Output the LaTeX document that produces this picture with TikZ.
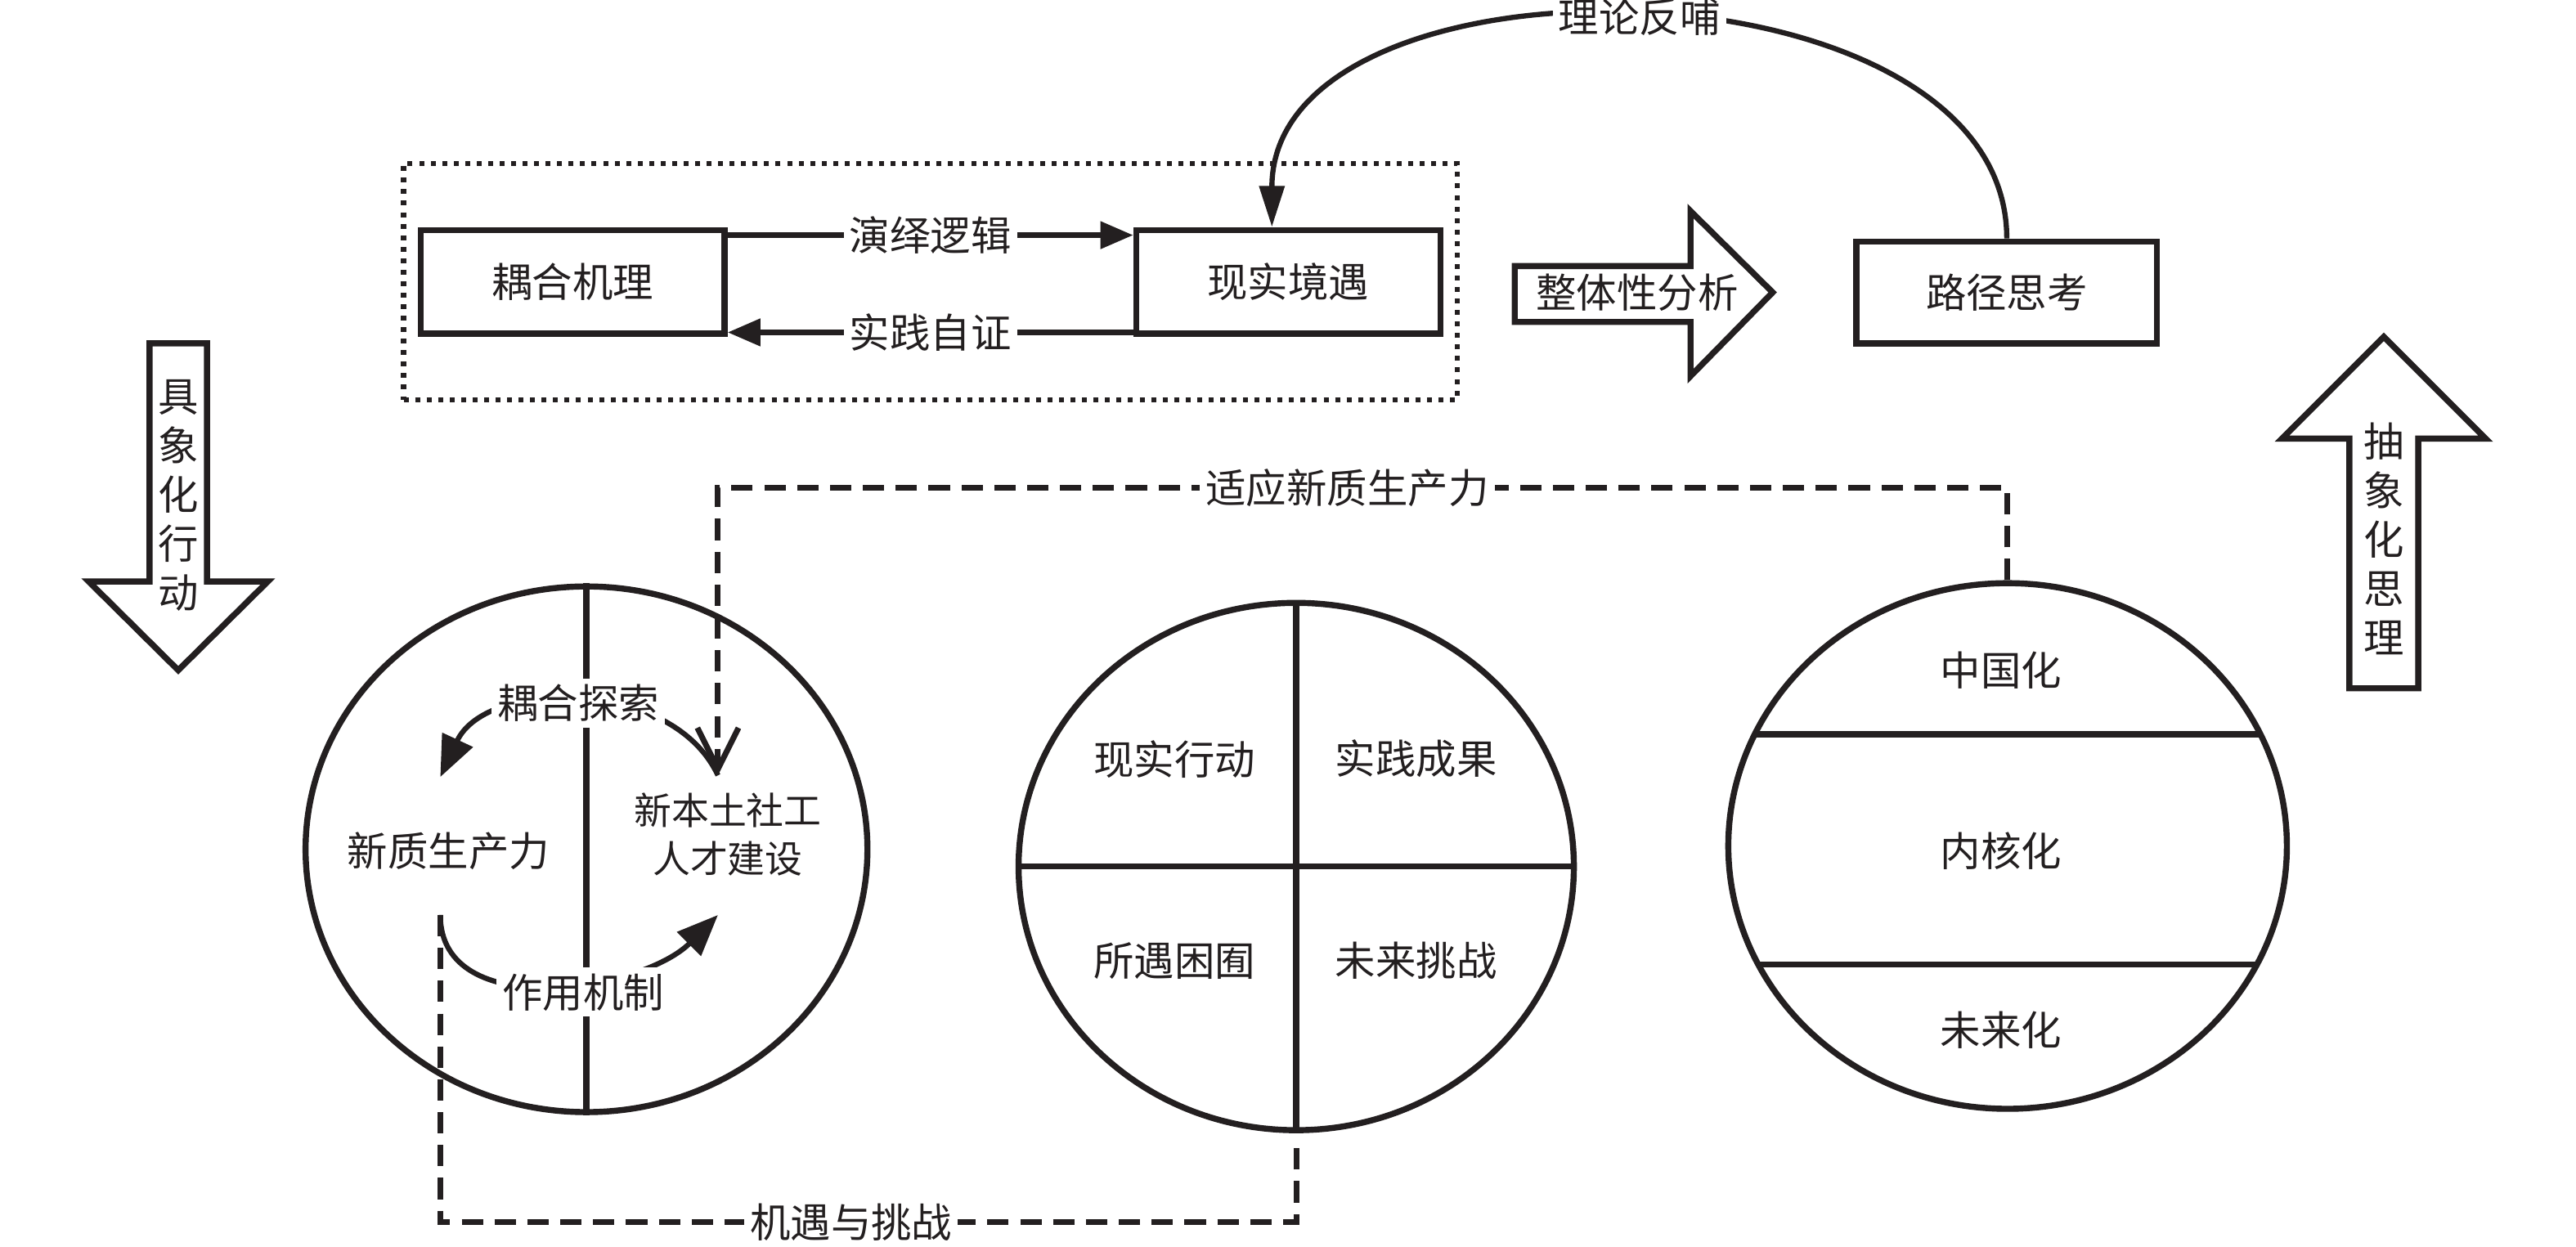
\documentclass[tikz,border=0pt]{standalone}
\usepackage{fontspec}
\setmainfont{Noto Sans CJK SC}
\usepackage{tikz}
\usetikzlibrary{arrows.meta,positioning,shapes.geometric,fit}
\definecolor{ink}{HTML}{231F20}

\begin{document}
\begin{tikzpicture}[
    node distance=4.94cm,
    box/.style={draw=ink, line width=2.1pt, minimum width=3.7cm,
                minimum height=1.26cm, inner sep=0pt, text=ink,
                font=\fontsize{14}{17}\selectfont},
    ring/.style={draw=ink, ellipse, line width=2.1pt, inner sep=0pt},
    txt/.style={text=ink, inner sep=1pt, align=center,
                font=\fontsize{14}{17}\selectfont},
    lbl/.style={txt, fill=white, inner sep=2pt},
    flow/.style={-{Triangle[length=4mm,width=3.2mm]}, draw=ink,
                 line width=2.1pt},
    turn/.style={-{Triangle[length=5mm,width=4mm]}, draw=ink,
                 line width=1.8pt},
    dashlink/.style={draw=ink, line width=2pt,
                     dash pattern=on 0.26cm off 0.14cm},
    blockarrow/.style={draw=ink, line width=2.1pt, fill=white,
                       line join=miter}]

  \useasboundingbox (0,0) rectangle (31.36,15.18);

  % top row
  \node[box] (mech) at (6.97,11.75) {耦合机理};
  \node[box, right=of mech] (real) {现实境遇};
  \node[box, minimum width=3.66cm, minimum height=1.24cm] (route) at (24.43,11.62) {路径思考};
  \node[draw=ink, line width=1.8pt, dash pattern=on 0.06cm off 0.08cm,
        inner xsep=0.17cm, inner ysep=0.77cm, fit=(mech)(real)] (frame) {};

  \draw[flow] ([yshift=-1mm]mech.north east) -- node[lbl] (deduce) {演绎逻辑} ([yshift=-1mm]real.north west);
  \draw[flow] ([yshift=0.5mm]real.south west) -- node[lbl] (verify) {实践自证} ([yshift=0.5mm]mech.south east);
  \draw[flow, line width=1.8pt, -{Triangle[length=5mm,width=3mm]}]
    (route.north) to[out=90,in=90] node[lbl] (feedback) {理论反哺} ([xshift=-2mm]real.north);

  % block arrows
  \draw[blockarrow] (18.44,11.94) -- (20.58,11.94) -- (20.58,12.61) -- (21.58,11.62)
    -- (20.58,10.6) -- (20.58,11.26) -- (18.44,11.26) -- cycle;
  \node[txt] (whole) at (19.93,11.62) {整体性分析};

  \draw[blockarrow] (1.82,11.0) -- (2.52,11.0) -- (2.52,8.1) -- (3.26,8.1)
    -- (2.17,7.02) -- (1.08,8.1) -- (1.82,8.1) -- cycle;
  \node[txt] (concrete) at (2.17,9.15) {具\\象\\化\\行\\动};

  \draw[blockarrow] (28.6,6.8) -- (29.44,6.8) -- (29.44,9.84) -- (30.26,9.84)
    -- (29.02,11.08) -- (27.78,9.84) -- (28.6,9.84) -- cycle;
  \node[txt] (abstract) at (29.02,8.62) {抽\\象\\化\\思\\理};

  % left ellipse
  \node[ring, minimum width=6.84cm, minimum height=6.4cm] (pair) at (7.14,4.84) {};
  \draw[ink, line width=2.1pt] (pair.north) -- (pair.south);
  \node[txt] (newpro) at (5.46,4.82) {新质生产力};
  \node[txt, font=\fontsize{13}{16.5}\selectfont] (talent) at (8.86,5.02) {新本土社工\\人才建设};
  \coordinate (tl) at (5.36,5.72);
  \coordinate (tr) at (8.74,5.74);
  \coordinate (bl) at (5.36,4.04);
  \coordinate (br) at (8.74,4.04);
  \draw[turn] (tr) to[out=115,in=65] (tl);
  \draw[turn] (bl) to[out=-90,in=-135] (br);
  \node[lbl] (couple) at (7.04,6.62) {耦合探索};
  \node[lbl] (mechanism) at (7.1,3.1) {作用机制};

  % middle circle
  \node[ring, minimum width=6.76cm, minimum height=6.42cm] (facts) at (15.78,4.63) {};
  \draw[ink, line width=2.1pt] (facts.north) -- (facts.south);
  \draw[ink, line width=2.1pt] (facts.west) -- (facts.east);
  \node[txt] (action) at (14.3,5.94) {现实行动};
  \node[txt] (result) at (17.24,5.94) {实践成果};
  \node[txt] (plight) at (14.3,3.48) {所遇困囿};
  \node[txt] (future) at (17.24,3.48) {未来挑战};

  % right circle
  \node[ring, minimum width=6.8cm, minimum height=6.4cm] (trend) at (24.44,4.88) {};
  \draw[ink, line width=2.1pt] (21.36,6.24) -- (27.52,6.24);
  \draw[ink, line width=2.1pt] (21.4,3.44) -- (27.48,3.44);
  \node[txt] (china) at (24.36,7.02) {中国化};
  \node[txt] (core) at (24.36,4.82) {内核化};
  \node[txt] (ahead) at (24.36,2.64) {未来化};

  % dashed links
  \coordinate (chance) at (5.36,0.3);
  \draw[dashlink, shorten >=1.5mm] (bl) -- (chance) -| node[lbl, pos=0.24] (chancelbl) {机遇与挑战} (facts.south);
  \coordinate (adapt) at (24.44,9.24);
  \draw[dashlink, -{Straight Barb[length=5mm,width=5mm]}] (trend.north) -- (adapt)
    -| node[lbl, pos=0.256] (adaptlbl) {适应新质生产力} (tr);
\end{tikzpicture}
\end{document}
